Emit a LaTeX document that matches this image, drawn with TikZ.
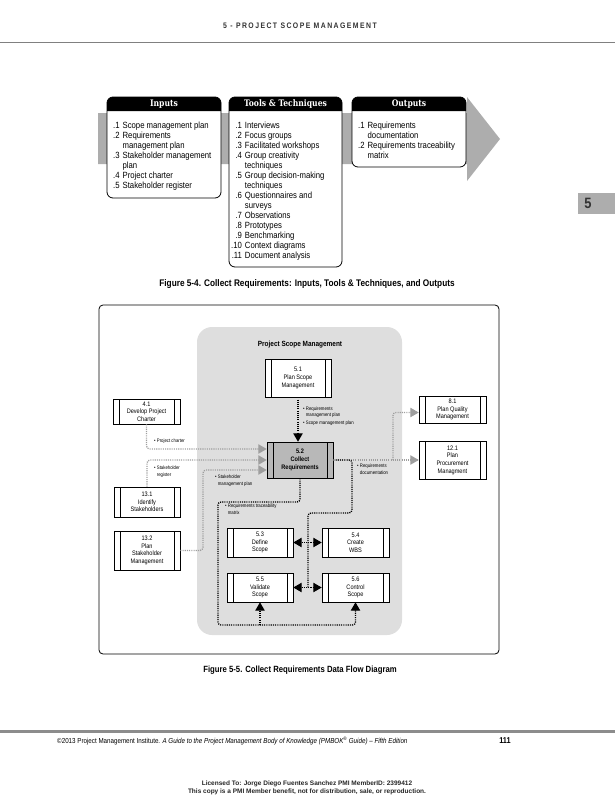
\documentclass[tikz,border=0pt]{standalone}
\usepackage{fontspec}
\setmainfont{Liberation Sans}[FakeStretch=0.86]
\newfontfamily\headfont{DejaVu Serif}[FakeStretch=0.85]
\newfontfamily\runfont{Liberation Sans}[FakeStretch=0.86, LetterSpace=18]
\newfontfamily\plainfont{Liberation Sans}
\usetikzlibrary{arrows, calc}
\definecolor{bandgray}{gray}{0.68}
\definecolor{panelgray}{gray}{0.87}
\definecolor{boxgray}{gray}{0.72}
\definecolor{linkgray}{gray}{0.62}

\begin{document}
\begin{tikzpicture}[x=1pt, y=-1pt,
	proc/.style={draw, fill=white, line width=0.6pt, align=center, inner sep=0pt,
		font=\fontsize{6.5}{7.7}\selectfont,
		path picture={\draw[line width=0.6pt]
			([xshift=6pt]path picture bounding box.south west) -- ([xshift=6pt]path picture bounding box.north west)
			([xshift=-6pt]path picture bounding box.south east) -- ([xshift=-6pt]path picture bounding box.north east);}},
	flow/.style={line width=1.3pt, dash pattern=on 1.1pt off 1.1pt, rounded corners=3pt},
	blk/.style={flow, black},
	gry/.style={flow, linkgray},
	note/.style={font=\fontsize{5}{6.3}\selectfont, align=left, anchor=north west, inner sep=0pt},
	listbox/.style={draw, line width=0.8pt, rounded corners=6pt, fill=white},
	headtxt/.style={text=white, font=\headfont\bfseries\fontsize{9}{9}\selectfont},
	listtxt/.style={anchor=north west, inner sep=0pt, font=\fontsize{9}{10}\selectfont}]
	\useasboundingbox (0,0) rectangle (615,800);

	\node (runhead) at (300,26) [font=\runfont\bfseries\fontsize{8}{9}\selectfont, text=black!80] {5 - PROJECT SCOPE MANAGEMENT};
	\draw [line width=1.5pt, black!50] (0,42.5) -- (615,42.5);
	\fill [bandgray] (578,193) rectangle (615,214);
	\node (tab) at (588,203.5) [font=\bfseries\fontsize{15}{15}\selectfont, text=black!80] {5};

	\fill [bandgray] (98,113) -- (467,113) -- (467,97) -- (500,139) -- (467,181) -- (467,164) -- (98,164) -- cycle;
	\draw [listbox] (107,97) rectangle (221,198);
	\draw [listbox] (229,97) rectangle (342,267);
	\draw [listbox] (352,97) rectangle (466,167);
	\fill (107,111) [rounded corners=6pt] -- (107,97) -- (221,97) [sharp corners] -- (221,111) -- cycle;
	\fill (229,111) [rounded corners=6pt] -- (229,97) -- (342,97) [sharp corners] -- (342,111) -- cycle;
	\fill (352,111) [rounded corners=6pt] -- (352,97) -- (466,97) [sharp corners] -- (466,111) -- cycle;
	\node (inhead) at (164,104) [headtxt] {Inputs};
	\node (toolhead) at (285.5,104) [headtxt] {Tools \& Techniques};
	\node (outhead) at (409,104) [headtxt] {Outputs};
	\node (inlist) at (113,121) [listtxt] {\begin{tabular}{@{}r@{\hspace{3pt}}l@{}}
		.1 & Scope management plan\\
		.2 & Requirements\\
		   & management plan\\
		.3 & Stakeholder management\\
		   & plan\\
		.4 & Project charter\\
		.5 & Stakeholder register
	\end{tabular}};
	\node (toollist) at (231,121) [listtxt] {\begin{tabular}{@{}r@{\hspace{3pt}}l@{}}
		.1 & Interviews\\
		.2 & Focus groups\\
		.3 & Facilitated workshops\\
		.4 & Group creativity\\
		   & techniques\\
		.5 & Group decision-making\\
		   & techniques\\
		.6 & Questionnaires and\\
		   & surveys\\
		.7 & Observations\\
		.8 & Prototypes\\
		.9 & Benchmarking\\
		.10 & Context diagrams\\
		.11 & Document analysis
	\end{tabular}};
	\node (outlist) at (358,121) [listtxt] {\begin{tabular}{@{}r@{\hspace{3pt}}l@{}}
		.1 & Requirements\\
		   & documentation\\
		.2 & Requirements traceability\\
		   & matrix
	\end{tabular}};
	\node (cap4) at (307,284) [font=\bfseries\fontsize{9.6}{10}\selectfont] {Figure 5-4. Collect Requirements: Inputs, Tools \& Techniques, and Outputs};

	\draw [line width=0.8pt, rounded corners=4pt] (99,305) rectangle (499,654);
	\fill [panelgray, rounded corners=15pt] (197,327) rectangle (402,635);
	\node (psm) at (300,345) [font=\bfseries\fontsize{7.5}{8}\selectfont] {Project Scope Management};

	\node (p51) at (298,378) [proc, minimum width=66pt, minimum height=38pt] {5.1\\Plan Scope\\Management};
	\node (p41) at (146.5,411.5) [proc, minimum width=67pt, minimum height=25pt] {4.1\\Develop Project\\Charter};
	\node (p52) at (300,460) [proc, fill=boxgray, minimum width=66pt, minimum height=36pt, font=\bfseries\fontsize{6.5}{7.7}\selectfont] {5.2\\Collect\\Requirements};
	\node (p81) at (452.5,409.5) [proc, minimum width=67pt, minimum height=27pt] {8.1\\Plan Quality\\Management};
	\node (p121) at (452.5,460) [proc, minimum width=67pt, minimum height=38pt] {12.1\\Plan\\Procurement\\Managment};
	\node (p131) at (147,502) [proc, minimum width=66pt, minimum height=30pt] {13.1\\Identify\\Stakeholders};
	\node (p132) at (147,550.5) [proc, minimum width=66pt, minimum height=39pt] {13.2\\Plan\\Stakeholder\\Management};
	\node (p53) at (260,542.5) [proc, minimum width=66pt, minimum height=29pt] {5.3\\Define\\Scope};
	\node (p54) at (355.5,542.5) [proc, minimum width=67pt, minimum height=29pt] {5.4\\Create\\WBS};
	\node (p55) at (260,587.5) [proc, minimum width=66pt, minimum height=29pt] {5.5\\Validate\\Scope};
	\node (p56) at (355.5,587.5) [proc, minimum width=67pt, minimum height=29pt] {5.6\\Control\\Scope};

	\coordinate (split) at (393,460);
	\coordinate (sgbend) at (203,500);
	\coordinate (tl) at (218,502);
	\coordinate (bl) at (218,625);
	\coordinate (tr) at (352,513);
	\coordinate (mr) at (308,513);

	\draw [gry, -triangle 60] (p41.south) |- ([yshift=11pt]p52.west);
	\draw [gry, -triangle 60] (p131.north) |- (p52.west);
	\draw [gry, -triangle 60] (p132.east) -| (sgbend) |- ([yshift=-10pt]p52.west);
	\draw [gry, -triangle 60] (p52.east) -- (p121.west);
	\draw [gry, -triangle 60] (split) |- ([yshift=-3pt]p81.west);

	\draw [blk, -triangle 60] (p51.south) -- (p51.south |- p52.north);
	\draw [blk, -triangle 60] (p52.south) |- (tl) -- (bl) -| (p56.south);
	\draw [blk, -triangle 60] (p55.south |- bl) -- (p55.south);
	\draw [blk] (p52.east) -| (tr) -- (mr) -- (mr |- p55.east);
	\draw [blk, triangle 60-triangle 60] (p53.east) -- (p54.west);
	\draw [blk, triangle 60-triangle 60] (p55.east) -- (p56.west);

	\node (n51) at (303,406.5) [note] {\textbullet~Requirements\\\phantom{\textbullet~}management plan\\[2pt]\textbullet~Scope management plan};
	\node (npc) at (154,439) [note] {\textbullet~Project charter};
	\node (nsr) at (154,466) [note] {\textbullet~Stakeholder\\\phantom{\textbullet~}register};
	\node (nsm) at (215,475) [note] {\textbullet~Stakeholder\\\phantom{\textbullet~}management plan};
	\node (nrd) at (357,464) [note] {\textbullet~Requirements\\\phantom{\textbullet~}documentation};
	\node (nrt) at (225,504) [note] {\textbullet~Requirements traceability\\\phantom{\textbullet~}matrix};
	\node (cap5) at (300,670) [font=\bfseries\fontsize{9}{10}\selectfont] {Figure 5-5. Collect Requirements Data Flow Diagram};

	\draw [line width=3pt, black!45] (0,731) -- (615,731);
	\node (foot) at (57,741) [anchor=west, inner sep=0pt, font=\fontsize{7.25}{9}\selectfont] {©2013 Project Management Institute. \textit{A Guide to the Project Management Body of Knowledge (PMBOK\textsuperscript{®} Guide) – Fifth Edition}};
	\node (pageno) at (505,741) [font=\bfseries\fontsize{8.5}{9}\selectfont] {111};
	\node (lic) at (307,788) [align=center, text=black!85, font=\plainfont\bfseries\fontsize{6.5}{7.5}\selectfont] {Licensed To: Jorge Diego Fuentes Sanchez PMI MemberID: 2399412\\This copy is a PMI Member benefit, not for distribution, sale, or reproduction.};
\end{tikzpicture}
\end{document}
